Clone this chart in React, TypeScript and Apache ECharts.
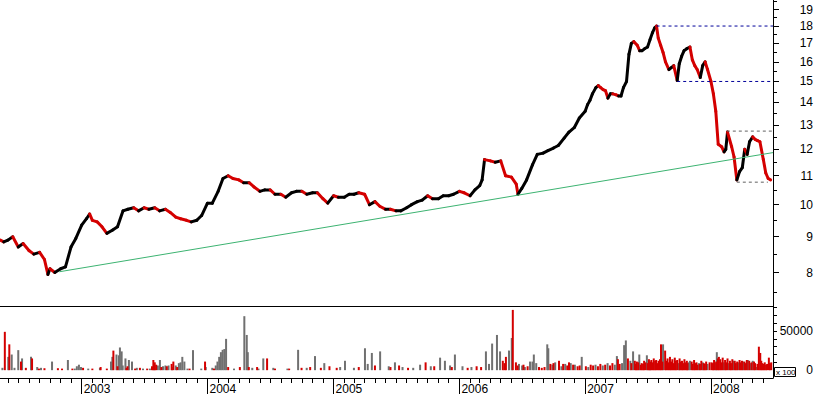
import React, { useEffect, useRef } from 'react';
import * as echarts from 'echarts';

// ---------- data ----------
const priceDates: string[] = [
  '2002-05-10','2002-05-20','2002-06-01','2002-06-15','2002-07-01','2002-07-15','2002-08-01','2002-08-15','2002-09-01','2002-09-15','2002-09-25','2002-10-01','2002-10-15','2002-11-01','2002-11-15','2002-12-01','2002-12-15',
  '2003-01-01','2003-01-15','2003-01-24','2003-02-01','2003-02-15','2003-03-01','2003-03-15','2003-04-01','2003-04-15','2003-05-01','2003-05-15','2003-06-01','2003-06-15','2003-07-01','2003-07-15','2003-08-01','2003-08-15','2003-09-01','2003-09-15','2003-10-01','2003-10-15','2003-11-01','2003-11-15','2003-12-01','2003-12-15',
  '2004-01-01','2004-01-15','2004-02-01','2004-02-15','2004-03-01','2004-03-15','2004-04-01','2004-04-15','2004-05-01','2004-05-15','2004-06-01','2004-06-15','2004-07-01','2004-07-15','2004-08-01','2004-08-15','2004-09-01','2004-09-15','2004-10-01','2004-10-15','2004-11-01','2004-11-15','2004-12-01','2004-12-15',
  '2005-01-01','2005-01-15','2005-02-01','2005-02-15','2005-03-01','2005-03-15','2005-04-01','2005-04-15','2005-05-01','2005-05-15','2005-06-01','2005-06-15','2005-07-01','2005-07-15','2005-08-01','2005-08-15','2005-09-01','2005-09-15','2005-10-01','2005-10-15','2005-11-01','2005-11-15','2005-12-01','2005-12-15',
  '2006-01-01','2006-01-15','2006-02-01','2006-02-15','2006-03-01','2006-03-08','2006-03-15','2006-04-01','2006-04-15','2006-05-01','2006-05-15','2006-06-01','2006-06-15','2006-06-20','2006-07-01','2006-07-15','2006-08-01','2006-08-15','2006-09-01','2006-09-15','2006-10-01','2006-10-15','2006-11-01','2006-11-15','2006-12-01','2006-12-15',
  '2007-01-01','2007-01-08','2007-01-15','2007-01-22','2007-02-01','2007-02-08','2007-02-15','2007-02-22','2007-03-01','2007-03-08','2007-03-15','2007-03-22','2007-04-01','2007-04-08','2007-04-15','2007-04-22','2007-05-01','2007-05-08','2007-05-15','2007-05-22','2007-06-01','2007-06-08','2007-06-15','2007-06-22','2007-07-01','2007-07-08','2007-07-15','2007-07-22','2007-07-27','2007-08-01','2007-08-08','2007-08-15','2007-08-22','2007-09-01','2007-09-08','2007-09-15','2007-09-25','2007-10-01','2007-10-08','2007-10-15','2007-10-22','2007-11-01','2007-11-08','2007-11-15','2007-11-22','2007-12-01','2007-12-08','2007-12-15','2007-12-22',
  '2008-01-01','2008-01-08','2008-01-15','2008-01-22','2008-02-01','2008-02-08','2008-02-13','2008-02-18','2008-03-01','2008-03-08','2008-03-16','2008-03-24','2008-04-01','2008-04-08','2008-04-15','2008-04-22','2008-05-01','2008-05-08','2008-05-15','2008-05-22','2008-06-01','2008-06-08','2008-06-15','2008-06-22',
];
const priceClose: number[] = [
  8.9, 8.85, 8.9, 9.0, 8.7, 8.8, 8.6, 8.5, 8.55, 8.35, 7.95, 8.1, 8.0, 8.1, 8.15, 8.7, 8.95,
  9.35, 9.55, 9.7, 9.5, 9.45, 9.3, 9.1, 9.2, 9.3, 9.8, 9.85, 9.9, 9.8, 9.9, 9.85, 9.9, 9.8, 9.85, 9.75, 9.6, 9.55, 9.5, 9.45, 9.5, 9.65,
  10.05, 10.05, 10.45, 10.9, 11.0, 10.9, 10.85, 10.75, 10.75, 10.6, 10.45, 10.5, 10.5, 10.35, 10.35, 10.25, 10.4, 10.45, 10.45, 10.35, 10.4, 10.4, 10.2, 10.05,
  10.3, 10.25, 10.25, 10.35, 10.35, 10.4, 10.35, 10.0, 10.1, 9.95, 9.85, 9.85, 9.8, 9.8, 9.9, 10.0, 10.1, 10.15, 10.3, 10.2, 10.2, 10.3, 10.3, 10.35,
  10.45, 10.4, 10.3, 10.5, 10.65, 10.85, 11.6, 11.55, 11.5, 11.55, 11.0, 10.95, 10.7, 10.35, 10.55, 10.85, 11.4, 11.8, 11.85, 11.95, 12.05, 12.15, 12.45, 12.7, 12.9, 13.3,
  13.6, 13.9, 14.1, 14.4, 14.7, 14.8, 14.7, 14.6, 14.55, 14.2, 14.4, 14.4, 14.35, 14.3, 14.3, 14.7, 15.0, 16.4, 17.0, 17.1, 16.9, 16.6, 16.6, 16.7, 16.8, 17.2, 17.6, 17.9, 18.0, 17.3, 16.9, 16.5, 16.0, 15.6, 15.7, 15.8, 15.05, 15.9, 16.3, 16.6, 16.7, 16.8, 16.1, 15.8, 15.6, 15.2, 15.8, 16.0, 15.6,
  15.0, 14.4, 13.6, 12.2, 12.1, 11.9, 12.0, 12.7, 12.1, 11.7, 10.85, 11.15, 11.3, 12.0, 11.8, 12.3, 12.5, 12.4, 12.35, 12.3, 11.6, 11.1, 10.9, 10.85,
];

const volumeGray: [string, number][] = [
  ['2002-05-16', 3000], ['2002-06-02', 17000], ['2002-06-12', 20000], ['2002-06-20', 3000], ['2002-07-01', 25600], ['2002-07-12', 15000], ['2002-08-07', 17000], ['2002-08-25', 4000], ['2002-09-05', 3000], ['2002-10-07', 11000], ['2002-11-22', 13000], ['2002-12-12', 2000], ['2002-12-18', 5000], ['2002-12-24', 7000], ['2002-12-30', 4000],
  ['2003-01-20', 2000], ['2003-02-23', 3000], ['2003-03-27', 11000], ['2003-03-31', 17000], ['2003-04-12', 20000], ['2003-04-19', 19000], ['2003-04-22', 29000], ['2003-04-27', 24000], ['2003-04-30', 6000], ['2003-05-08', 15000], ['2003-05-18', 13000], ['2003-05-27', 11000], ['2003-06-10', 3000], ['2003-06-28', 2000], ['2003-07-18', 2000], ['2003-07-30', 3000], ['2003-08-10', 6000], ['2003-08-16', 13000], ['2003-08-25', 5000], ['2003-09-01', 6000], ['2003-09-10', 6000], ['2003-09-20', 4000], ['2003-10-01', 6000], ['2003-10-10', 9000], ['2003-10-15', 10000], ['2003-10-20', 17000], ['2003-10-26', 11000], ['2003-11-04', 2000], ['2003-11-20', 25600], ['2003-12-14', 2000], ['2003-12-27', 4000],
  ['2004-01-15', 3000], ['2004-01-25', 6000], ['2004-01-30', 11000], ['2004-02-04', 17000], ['2004-02-09', 23000], ['2004-02-14', 26000], ['2004-02-19', 27000], ['2004-02-24', 40000], ['2004-03-18', 2000], ['2004-04-17', 69000], ['2004-04-24', 45000], ['2004-04-27', 23000], ['2004-05-10', 3000], ['2004-05-28', 2000], ['2004-06-11', 15000], ['2004-07-10', 3000], ['2004-08-20', 2000], ['2004-09-20', 26000], ['2004-10-15', 3000], ['2004-11-08', 18000], ['2004-12-05', 9000],
  ['2005-01-20', 4000], ['2005-02-03', 12000], ['2005-03-01', 3000], ['2005-04-02', 28000], ['2005-04-10', 8000], ['2005-04-22', 22000], ['2005-05-16', 24000], ['2005-06-10', 5000], ['2005-06-28', 10000], ['2005-07-20', 4000], ['2005-08-20', 3000], ['2005-09-09', 7000], ['2005-10-10', 5000], ['2005-11-06', 16000], ['2005-11-20', 12000], ['2005-12-05', 6000], ['2005-12-19', 20000],
  ['2006-01-10', 5000], ['2006-02-05', 4000], ['2006-03-19', 24000], ['2006-03-28', 8000], ['2006-04-06', 34000], ['2006-04-20', 45000], ['2006-04-29', 24000], ['2006-05-25', 25000], ['2006-06-02', 41000], ['2006-06-23', 8000], ['2006-07-02', 6000], ['2006-07-10', 4000], ['2006-07-25', 11000], ['2006-08-01', 11000], ['2006-08-05', 20000], ['2006-08-12', 9000], ['2006-09-13', 33000], ['2006-09-16', 28000], ['2006-09-28', 7000], ['2006-10-06', 10000], ['2006-10-24', 5000], ['2006-11-04', 8000], ['2006-11-20', 9000], ['2006-12-02', 7000], ['2006-12-22', 17000],
  ['2007-01-10', 4000], ['2007-01-31', 7000], ['2007-02-21', 6000], ['2007-03-07', 9000], ['2007-03-28', 7000], ['2007-04-03', 18000], ['2007-04-18', 9000], ['2007-04-24', 32000], ['2007-04-29', 38000], ['2007-05-12', 12000], ['2007-05-20', 24000], ['2007-06-07', 20000], ['2007-06-29', 19000], ['2007-07-08', 9000], ['2007-08-15', 33000], ['2007-09-30', 9000], ['2007-10-28', 10000], ['2007-11-01', 12000], ['2007-11-27', 9000], ['2007-12-08', 10000], ['2007-12-22', 8000],
  ['2008-01-14', 9000], ['2008-01-18', 23000], ['2008-02-07', 10000], ['2008-02-21', 9000], ['2008-03-06', 12000], ['2008-03-20', 10000], ['2008-04-03', 11000], ['2008-04-17', 13000], ['2008-04-24', 9000], ['2008-05-01', 12000], ['2008-05-12', 4000],
];
const volumeRed: [string, number][] = [
  ['2002-05-23', 49000], ['2002-06-05', 33000], ['2002-07-09', 11000], ['2002-07-23', 3000], ['2002-08-10', 15000], ['2002-08-30', 2000], ['2002-09-15', 2500], ['2002-10-24', 2500], ['2002-11-05', 2000], ['2002-12-05', 2000],
  ['2003-01-05', 3000], ['2003-02-01', 2000], ['2003-02-25', 4000], ['2003-03-15', 2000], ['2003-04-03', 25000], ['2003-04-15', 5000], ['2003-05-11', 3000], ['2003-05-14', 5000], ['2003-06-05', 2000], ['2003-06-19', 3000], ['2003-07-10', 2000], ['2003-07-24', 5000], ['2003-07-28', 13000], ['2003-08-01', 10000], ['2003-08-05', 7000], ['2003-08-20', 4000], ['2003-09-05', 5000], ['2003-09-19', 8000], ['2003-09-24', 11000], ['2003-10-05', 4000], ['2003-11-10', 2000], ['2003-12-25', 11000],
  ['2004-01-20', 2000], ['2004-03-01', 4000], ['2004-04-04', 4000], ['2004-04-30', 4000], ['2004-05-24', 4000], ['2004-06-22', 15000], ['2004-07-15', 2000], ['2004-08-25', 2000], ['2004-09-30', 3000], ['2004-10-25', 4000], ['2004-11-25', 3000], ['2004-12-20', 5000],
  ['2005-01-10', 3000], ['2005-03-15', 4000], ['2005-05-01', 6000], ['2005-06-15', 4000], ['2005-07-10', 6000], ['2005-08-05', 3000], ['2005-09-25', 10000], ['2005-10-20', 5000], ['2005-12-10', 4000],
  ['2006-01-25', 3000], ['2006-02-20', 5000], ['2006-03-05', 4000], ['2006-05-07', 12000], ['2006-05-12', 9000], ['2006-05-16', 17000], ['2006-06-05', 77000], ['2006-06-14', 10000], ['2006-06-19', 6000], ['2006-07-06', 7000], ['2006-07-18', 5000], ['2006-08-20', 4000], ['2006-08-28', 3000], ['2006-09-05', 4000], ['2006-09-22', 8000], ['2006-10-01', 9000], ['2006-10-17', 12000], ['2006-10-29', 8000], ['2006-11-10', 6000], ['2006-11-15', 10000], ['2006-11-27', 7000], ['2006-12-10', 5000], ['2006-12-16', 6000],
  ['2007-01-03', 5000], ['2007-01-17', 7000], ['2007-01-24', 6000], ['2007-02-07', 5000], ['2007-02-14', 8000], ['2007-02-28', 7000], ['2007-03-14', 6000], ['2007-03-21', 9000], ['2007-04-06', 14000], ['2007-04-11', 8000], ['2007-05-05', 15000], ['2007-05-15', 9000], ['2007-05-25', 12000], ['2007-05-28', 8000], ['2007-05-31', 11000], ['2007-06-04', 10000], ['2007-06-11', 7000], ['2007-06-14', 9000], ['2007-06-18', 8000], ['2007-06-21', 12000], ['2007-06-25', 10000], ['2007-07-02', 9000], ['2007-07-05', 14000], ['2007-07-09', 11000], ['2007-07-12', 13000], ['2007-07-16', 10000], ['2007-07-19', 15000], ['2007-07-23', 12000], ['2007-07-26', 13000], ['2007-07-30', 9000], ['2007-08-02', 12000], ['2007-08-06', 14000], ['2007-08-09', 33000], ['2007-08-13', 11000], ['2007-08-21', 25000], ['2007-08-24', 12000], ['2007-08-28', 15000], ['2007-08-31', 10000], ['2007-09-04', 17000], ['2007-09-07', 11000], ['2007-09-11', 14000], ['2007-09-14', 9000], ['2007-09-18', 16000], ['2007-09-21', 12000], ['2007-09-25', 13000], ['2007-10-02', 15000], ['2007-10-05', 11000], ['2007-10-09', 12000], ['2007-10-12', 9000], ['2007-10-16', 14000], ['2007-10-19', 10000], ['2007-10-23', 12000], ['2007-10-25', 9000], ['2007-11-06', 11000], ['2007-11-09', 8000], ['2007-11-13', 13000], ['2007-11-16', 9000], ['2007-11-20', 10000], ['2007-11-23', 7000], ['2007-11-30', 8000], ['2007-12-04', 12000], ['2007-12-11', 9000], ['2007-12-14', 8000], ['2007-12-18', 11000], ['2007-12-28', 10000],
  ['2008-01-03', 10000], ['2008-01-07', 9000], ['2008-01-10', 13000], ['2008-01-16', 11000], ['2008-01-21', 15000], ['2008-01-24', 17000], ['2008-01-28', 14000], ['2008-01-31', 10000], ['2008-02-04', 16000], ['2008-02-11', 13000], ['2008-02-14', 10000], ['2008-02-18', 15000], ['2008-02-25', 12000], ['2008-02-28', 9000], ['2008-03-03', 14000], ['2008-03-10', 12000], ['2008-03-13', 9000], ['2008-03-17', 11000], ['2008-03-24', 13000], ['2008-03-27', 10000], ['2008-03-31', 12000], ['2008-04-07', 11000], ['2008-04-10', 9000], ['2008-04-14', 13000], ['2008-04-21', 12000], ['2008-04-28', 10000], ['2008-05-05', 11000], ['2008-05-08', 9000], ['2008-05-15', 8000], ['2008-05-19', 30000], ['2008-05-23', 22000], ['2008-05-26', 12000], ['2008-05-29', 9000], ['2008-06-02', 8000], ['2008-06-05', 10000], ['2008-06-09', 7000], ['2008-06-12', 8000], ['2008-06-17', 16000], ['2008-06-20', 9000], ['2008-06-24', 10000],
];

const priceTickLabels = [8, 9, 10, 11, 12, 13, 14, 15, 16, 17, 18, 19];
const priceHalfTicks = [7.5, 8.5, 9.5, 10.5, 11.5, 12.5, 13.5, 14.5, 15.5, 16.5, 17.5, 18.5, 19.5];
const volumeTicks = [0, 10000, 20000, 30000, 40000, 50000, 60000, 70000, 80000];
const volumeTickLabels = [0, 50000];
const yearTicks = ['2003-01-01', '2004-01-01', '2005-01-01', '2006-01-01', '2007-01-01', '2008-01-01'];
const levelLines: [string, string, number][] = [
  ['2007-07-27', '2008-06-29', 18.0],
  ['2007-09-25', '2008-06-29', 15.0],
  ['2008-02-16', '2008-06-29', 12.74],
  ['2008-03-16', '2008-06-14', 10.77],
];
const trendLine: [string, number][] = [['2002-10-28', 8.02], ['2008-06-29', 11.87]];
const axisStart = '2002-05-09';
const axisEnd = '2008-06-29';
const priceMin = 7.166;
const priceMax = 19.61;
const volumeMin = -10000;
const volumeMax = 82000;
const volumeUnit = 'x 100';

// ---------- helpers ----------
const t = (s: string) => {
  const [y, m, d] = s.split('-').map(Number);
  return Date.UTC(y, m - 1, d);
};
const L = (p: number) => Math.log(p);

const monthTicks: number[] = (() => {
  const out: number[] = [];
  const s = new Date(t(axisStart));
  const e = t(axisEnd);
  let y = s.getUTCFullYear();
  let m = s.getUTCMonth() + 1;
  while (true) {
    if (m > 11) { m = 0; y++; }
    const v = Date.UTC(y, m, 1);
    if (v > e) break;
    out.push(v);
    m++;
  }
  return out;
})();

const FONT = "'Liberation Sans', Arial, sans-serif";
const RED = '#d40000';

export default function App() {
  const ref = useRef<HTMLDivElement>(null);
  useEffect(() => {
    if (!ref.current) return;
    const chart = echarts.init(ref.current, undefined, { renderer: 'svg' });

    const segs: number[][] = [];
    for (let i = 1; i < priceDates.length; i++) {
      segs.push([t(priceDates[i - 1]), L(priceClose[i - 1]), t(priceDates[i]), L(priceClose[i])]);
    }

    const xMin = t(axisStart);
    const xMax = t(axisEnd);
    const levelColors = ['#00009a', '#00009a', '#606060', '#606060'];

    const option: any = {
      animation: false,
      backgroundColor: '#ffffff',
      textStyle: { fontFamily: FONT },
      grid: [
        { left: 0, right: 44, top: 0, height: 306, outerBoundsMode: 'none', containLabel: false },
        { left: 0, right: 44, top: 306, height: 72, outerBoundsMode: 'none', containLabel: false },
      ],
      xAxis: [
        {
          type: 'value', gridIndex: 0, position: 'bottom', min: xMin, max: xMax,
          axisLine: { show: true, onZero: false, lineStyle: { color: '#000', width: 1 } },
          axisTick: { show: false }, axisLabel: { show: false }, splitLine: { show: false },
        },
        {
          type: 'value', gridIndex: 1, position: 'bottom', min: xMin, max: xMax,
          axisLine: { show: true, onZero: false, lineStyle: { color: '#000', width: 1 } },
          axisTick: { show: true, length: 5, customValues: monthTicks, lineStyle: { color: '#000' } },
          axisLabel: { show: false }, splitLine: { show: false },
        },
        {
          type: 'value', gridIndex: 1, position: 'bottom', min: xMin, max: xMax,
          axisLine: { show: false, onZero: false },
          axisTick: { show: true, length: 16, customValues: yearTicks.map(t), lineStyle: { color: '#000' } },
          axisLabel: {
            show: true, customValues: yearTicks.map(t), margin: 5, align: 'left', padding: [0, 0, 0, 2],
            color: '#000', fontSize: 12, fontFamily: FONT,
            formatter: (v: number) => String(new Date(v).getUTCFullYear()),
          },
          splitLine: { show: false },
        },
      ],
      yAxis: [
        {
          type: 'value', gridIndex: 0, position: 'right', min: L(priceMin), max: L(priceMax),
          axisLine: { show: true, onZero: false, lineStyle: { color: '#000', width: 1 } },
          axisTick: { show: true, length: 6, customValues: priceTickLabels.map(L), lineStyle: { color: '#000' } },
          axisLabel: {
            show: true, customValues: priceTickLabels.map(L), align: 'right', margin: 40,
            color: '#000', fontSize: 12, fontFamily: FONT,
            formatter: (v: number) => String(Math.round(Math.exp(v))),
          },
          splitLine: { show: false },
        },
        {
          type: 'value', gridIndex: 0, position: 'right', min: L(priceMin), max: L(priceMax),
          axisLine: { show: false, onZero: false },
          axisTick: { show: true, length: 4, customValues: priceHalfTicks.map(L), lineStyle: { color: '#000' } },
          axisLabel: { show: false }, splitLine: { show: false },
        },
        {
          type: 'value', gridIndex: 1, position: 'right', min: volumeMin, max: volumeMax,
          axisLine: { show: true, onZero: false, lineStyle: { color: '#000', width: 1 } },
          axisTick: { show: true, length: 4, customValues: volumeTicks, lineStyle: { color: '#000' } },
          axisLabel: {
            show: true, customValues: volumeTickLabels, align: 'right', margin: 40,
            color: '#000', fontSize: 12, fontFamily: FONT,
            formatter: (v: number) => String(v),
          },
          splitLine: { show: false },
        },
      ],
      series: [
        {
          type: 'custom', xAxisIndex: 0, yAxisIndex: 0, coordinateSystem: 'cartesian2d',
          encode: { x: [0, 2], y: [1, 3] },
          data: segs,
          z: 2,
          renderItem: (params: any, api: any) => {
            const a = api.coord([api.value(0), api.value(1)]);
            const b = api.coord([api.value(2), api.value(3)]);
            const up = api.value(3) >= api.value(1);
            return {
              type: 'line',
              shape: { x1: a[0], y1: a[1], x2: b[0], y2: b[1] },
              style: { stroke: up ? '#000000' : RED, lineWidth: 3, lineCap: 'round' },
            };
          },
        },
        {
          type: 'line', xAxisIndex: 0, yAxisIndex: 0, symbol: 'none', z: 5,
          data: trendLine.map(([d, p]) => [t(d), L(p)]),
          lineStyle: { color: '#3cb371', width: 1 },
        },
        ...levelLines.map(([a, b, p], i) => ({
          type: 'line', xAxisIndex: 0, yAxisIndex: 0, symbol: 'none', z: 4,
          data: [[t(a), L(p)], [t(b), L(p)]],
          lineStyle: { color: levelColors[i], width: 1, type: [3, 3] },
        })),
        {
          type: 'bar', xAxisIndex: 1, yAxisIndex: 2, barWidth: 2, barGap: '-100%',
          data: volumeGray.map(([d, v]) => [t(d), v]),
          itemStyle: { color: '#707070' },
        },
        {
          type: 'bar', xAxisIndex: 1, yAxisIndex: 2, barWidth: 2, barGap: '-100%',
          data: volumeRed.map(([d, v]) => [t(d), v]),
          itemStyle: { color: RED },
        },
      ],
      graphic: [
        {
          type: 'rect', left: 774, top: 367, z: 10,
          shape: { width: 21, height: 9 },
          style: { fill: '#fff', stroke: '#000', lineWidth: 1 },
        },
        {
          type: 'text', left: 776, top: 368, z: 11,
          style: { text: volumeUnit, fontSize: 8, fontFamily: FONT, fill: '#000' },
        },
      ],
    };
    chart.setOption(option);
    return () => chart.dispose();
  }, []);
  return <div ref={ref} style={{ position: 'absolute', left: 0, top: 0, width: 817, height: 395 }} />;
}
